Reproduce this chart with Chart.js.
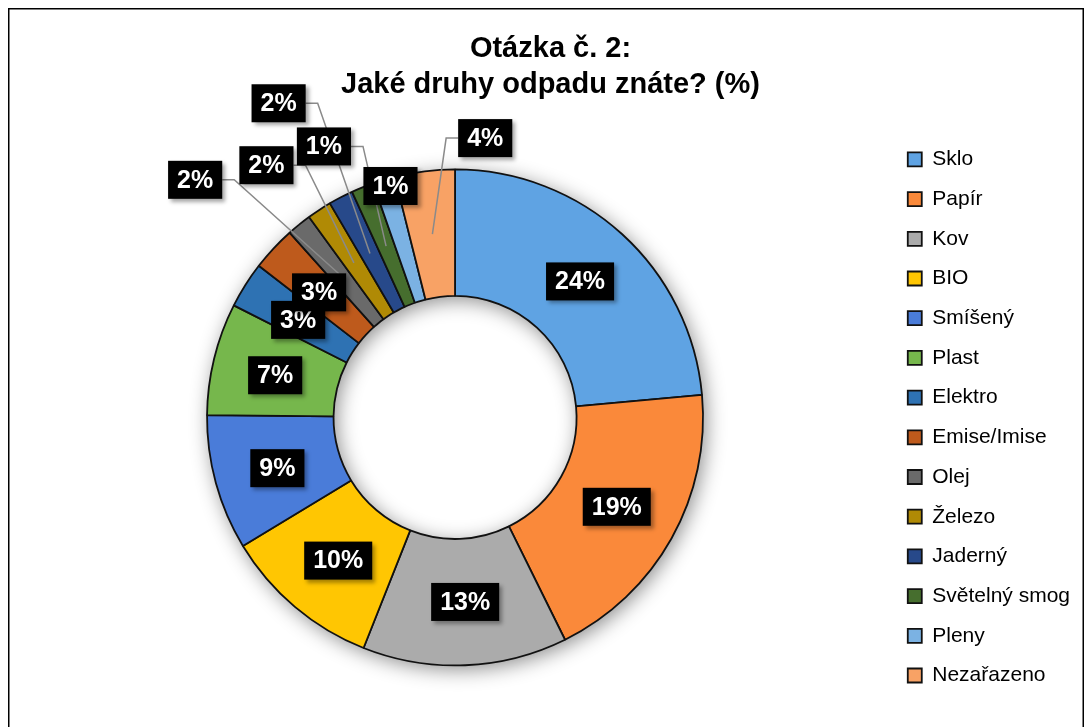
<!DOCTYPE html>
<html>
<head>
<meta charset="utf-8">
<script src="https://cdn.jsdelivr.net/npm/chart.js@4/dist/chart.umd.min.js"></script>
<style>
  html, body { margin: 0; padding: 0; background: #fff; }
  #wrap { width: 1088px; height: 727px; position: relative; }
</style>
</head>
<body>
<div id="wrap"><canvas id="c" width="1088" height="727"></canvas></div>
<script>
// ---- data ----
const titleLines = ['Otázka č. 2:', 'Jaké druhy odpadu znáte? (%)'];
const categories = ['Sklo', 'Papír', 'Kov', 'BIO', 'Smíšený', 'Plast', 'Elektro', 'Emise/Imise', 'Olej', 'Železo', 'Jaderný', 'Světelný smog', 'Pleny', 'Nezařazeno'];
const values = [23.5, 19.1, 13.3, 10.3, 8.8, 7.3, 3.0, 2.9, 1.6, 1.6, 1.6, 1.45, 1.45, 3.9];

// ---- styles ----
const sliceColors = ['#5FA3E3', '#FA893A', '#ABABAB', '#FFC602', '#4A7CD9', '#76B74C', '#2E72B3', '#BE5A1C', '#6A6A6A', '#B08A05', '#27498A', '#466E2E', '#7BB2E3', '#F8A265'];
// label placement: angle offset from slice middle (deg), radius as fraction of outer radius (null = ring middle), leader line
const labelPlacement = [
  {da: 0.2, r: null, lead: false},
  {da: -0.3, r: null, lead: false},
  {da: -0.8, r: null, lead: false},
  {da: -1.0, r: null, lead: false},
  {da: -0.6, r: null, lead: false},
  {da: -0.5, r: null, lead: false},
  {da: -0.4, r: null, lead: false},
  {da: -0.3, r: null, lead: false},
  {da: -8.6, r: 1.42, lead: true},
  {da: -3.6, r: 1.27, lead: true},
  {da: -1.9, r: 1.453, lead: true},
  {da: -3.9, r: 1.214, lead: true},
  {da: 1.1, r: 0.969, lead: false},
  {da: 13.2, r: 1.133, lead: true}
];
const FONT = "'Liberation Sans', Arial, Helvetica, sans-serif";

const framePlugin = {
  id: 'frame',
  beforeDraw(chart) {
    const ctx = chart.ctx;
    ctx.save();
    ctx.fillStyle = '#fff';
    ctx.fillRect(0, 0, chart.width, chart.height);
    ctx.strokeStyle = '#000';
    ctx.lineWidth = 1.5;
    ctx.strokeRect(8.75, 8.75, 1074.5, 740);
    ctx.restore();
  },
  beforeDatasetsDraw(chart) {
    const meta = chart.getDatasetMeta(0);
    if (!meta.data.length) return;
    const a = meta.data[0];
    const ctx = chart.ctx;
    ctx.save();
    ctx.shadowColor = 'rgba(0,0,0,0.45)';
    ctx.shadowBlur = 20;
    ctx.shadowOffsetX = 3;
    ctx.shadowOffsetY = 4;
    ctx.fillStyle = '#fff';
    ctx.beginPath();
    ctx.arc(a.x, a.y, a.outerRadius, 0, Math.PI * 2);
    ctx.arc(a.x, a.y, a.innerRadius, 0, Math.PI * 2, true);
    ctx.fill();
    ctx.restore();
  }
};

const labelPlugin = {
  id: 'boxLabels',
  afterDatasetsDraw(chart) {
    const ctx = chart.ctx;
    const meta = chart.getDatasetMeta(0);
    const ds = chart.data.datasets[0];
    const items = [];
    meta.data.forEach((arc, i) => {
      const p = arc.getProps(['x', 'y', 'startAngle', 'endAngle', 'innerRadius', 'outerRadius'], true);
      const pl = labelPlacement[i];
      const mid = (p.startAngle + p.endAngle) / 2;
      const ringMid = (p.innerRadius + p.outerRadius) / 2;
      const ang = mid + pl.da * Math.PI / 180;
      const rr = pl.r == null ? ringMid : pl.r * p.outerRadius;
      const cx = p.x + rr * Math.cos(ang);
      const cy = p.y + rr * Math.sin(ang);
      const ex = p.x + ringMid * Math.cos(mid);
      const ey = p.y + ringMid * Math.sin(mid);
      items.push({cx, cy, ex, ey, lead: pl.lead, text: Math.round(ds.data[i]) + '%'});
    });
    ctx.save();
    ctx.font = 'bold 25px ' + FONT;
    const boxH = 38;
    items.forEach(it => {
      it.w = ctx.measureText(it.text).width + 18;
    });
    // leader lines
    ctx.strokeStyle = '#8a8a8a';
    ctx.lineWidth = 1.5;
    items.forEach(it => {
      if (!it.lead) return;
      const right = it.ex > it.cx;
      const sx = right ? it.cx + it.w / 2 : it.cx - it.w / 2;
      const kx = right ? sx + 12 : sx - 12;
      ctx.beginPath();
      ctx.moveTo(sx, it.cy);
      ctx.lineTo(kx, it.cy);
      ctx.lineTo(it.ex, it.ey);
      ctx.stroke();
    });
    // boxes
    items.forEach(it => {
      ctx.save();
      ctx.shadowColor = 'rgba(0,0,0,0.35)';
      ctx.shadowBlur = 4;
      ctx.shadowOffsetX = 3;
      ctx.shadowOffsetY = 3;
      ctx.fillStyle = '#000';
      ctx.fillRect(it.cx - it.w / 2, it.cy - boxH / 2, it.w, boxH);
      ctx.restore();
      ctx.fillStyle = '#fff';
      ctx.textAlign = 'center';
      ctx.textBaseline = 'middle';
      ctx.fillText(it.text, it.cx, it.cy + 1);
    });
    ctx.restore();
  }
};

new Chart(document.getElementById('c'), {
  type: 'doughnut',
  data: {
    labels: categories,
    datasets: [{
      data: values,
      backgroundColor: sliceColors,
      borderColor: '#111',
      borderWidth: 1.8,
      hoverOffset: 0,
      offset: 0
    }]
  },
  options: {
    responsive: false,
    animation: false,
    radius: 248,
    cutout: '49%',
    layout: { padding: { left: 21, right: 8, top: 0, bottom: 0 } },
    plugins: {
      tooltip: { enabled: false },
      title: {
        display: true,
        text: titleLines,
        color: '#000',
        font: { family: FONT, size: 29, weight: 'bold', lineHeight: 1.24 },
        padding: { top: 31, bottom: 5 }
      },
      legend: {
        position: 'right',
        fullSize: false,
        labels: {
          color: '#000',
          font: { family: FONT, size: 21 },
          boxWidth: 14,
          boxHeight: 14,
          padding: 18.7
        }
      }
    }
  },
  plugins: [framePlugin, labelPlugin]
});
</script>
</body>
</html>
